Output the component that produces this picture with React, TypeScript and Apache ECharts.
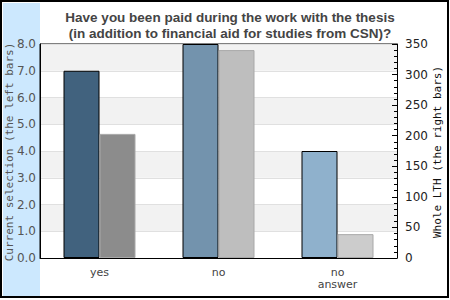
import React, { useEffect, useRef } from "react";
import * as echarts from "echarts";

const categories = ["yes", "no", "no\nanswer"];
const currentSelection = [7.0, 8.0, 4.0];
const wholeLTH = [203, 340, 39];
const leftColors = ["#41627e", "#7393ad", "#8fb1cc"];
const rightColors = ["#8c8c8c", "#bebebe", "#cccccc"];
const titleText = "Have you been paid during the work with the thesis\n(in addition to financial aid for studies from CSN)?";
const leftAxisName = "Current selection (the left bars)";
const rightAxisName = "Whole LTH (the right bars)";

export default function App() {
  const ref = useRef<HTMLDivElement>(null);
  useEffect(() => {
    if (!ref.current) return;
    const chart = echarts.init(ref.current, null, { renderer: "svg" });
    chart.setOption({
      animation: false,
      backgroundColor: "#ffffff",
      graphic: [
        { type: "rect", z: -10, silent: true, shape: { x: 3, y: 3, width: 37, height: 293 }, style: { fill: "#cce8fe" } },
        { type: "rect", z: 100, silent: true, shape: { x: 1, y: 1, width: 447, height: 296 }, style: { fill: "none", stroke: "#000", lineWidth: 2 } },
        {
          type: "text", z: 50, silent: true, x: 9, y: 152, rotation: Math.PI / 2,
          style: { text: leftAxisName, fontFamily: "DejaVu Sans Mono", fontSize: 11, fill: "#555", align: "center", verticalAlign: "middle" },
        },
        {
          type: "text", z: 50, silent: true, x: 437, y: 152, rotation: Math.PI / 2,
          style: { text: rightAxisName, fontFamily: "DejaVu Sans Mono", fontSize: 11, fill: "#111", align: "center", verticalAlign: "middle" },
        },
      ],
      title: {
        text: titleText,
        left: 225,
        textAlign: "center",
        top: 4,
        textStyle: { fontFamily: "Liberation Sans", fontWeight: "bold", fontSize: 13.5, color: "#444", lineHeight: 16 },
      },
      grid: {
        left: 40, top: 44, right: 53, bottom: 42,
        outerBoundsMode: "none", containLabel: false,
        show: true, backgroundColor: "#fff", borderColor: "#000", borderWidth: 1,
      },
      xAxis: {
        type: "category",
        data: categories,
        axisLine: { show: true, lineStyle: { color: "#000" } },
        axisTick: { show: false },
        axisLabel: { fontFamily: "DejaVu Sans", fontSize: 11, color: "#444", margin: 8, lineHeight: 12 },
      },
      yAxis: [
        {
          type: "value", min: 0, max: 8, interval: 1, position: "left",
          axisLine: { show: true, lineStyle: { color: "#000" } },
          axisTick: { show: false },
          axisLabel: { formatter: (v: number) => v.toFixed(1), fontFamily: "DejaVu Sans", fontSize: 12, color: "#555", margin: 4 },
          splitLine: { show: true, lineStyle: { color: "#e0e0e0" } },
          splitArea: { show: true, areaStyle: { color: ["#ffffff", "#f2f2f2"] } },
        },
        {
          type: "value", min: 0, max: 350, interval: 50, position: "right",
          z: 10,
          axisLine: { show: true, lineStyle: { color: "#000" } },
          axisTick: { show: true, inside: true, length: 5, lineStyle: { color: "#000", width: 1 } },
          minorTick: { show: true, splitNumber: 5, length: 3, lineStyle: { color: "#000", width: 1 } },
          axisLabel: { fontFamily: "DejaVu Sans", fontSize: 12, color: "#222", margin: 8 },
          splitLine: { show: false },
        },
      ],
      series: [
        {
          type: "bar", yAxisIndex: 0, barWidth: 36, barGap: "0%",
          data: currentSelection.map((v, i) => ({ value: v, itemStyle: { color: leftColors[i], borderColor: "#000", borderWidth: 1 } })),
        },
        {
          type: "bar", yAxisIndex: 1, barWidth: 36, barGap: "0%",
          data: wholeLTH.map((v, i) => ({ value: v, itemStyle: { color: rightColors[i], borderColor: "#a8a8a8", borderWidth: 1 } })),
        },
      ],
    });
    return () => chart.dispose();
  }, []);
  return <div ref={ref} style={{ position: "fixed", left: 0, top: 0, width: 450, height: 300 }} />;
}
